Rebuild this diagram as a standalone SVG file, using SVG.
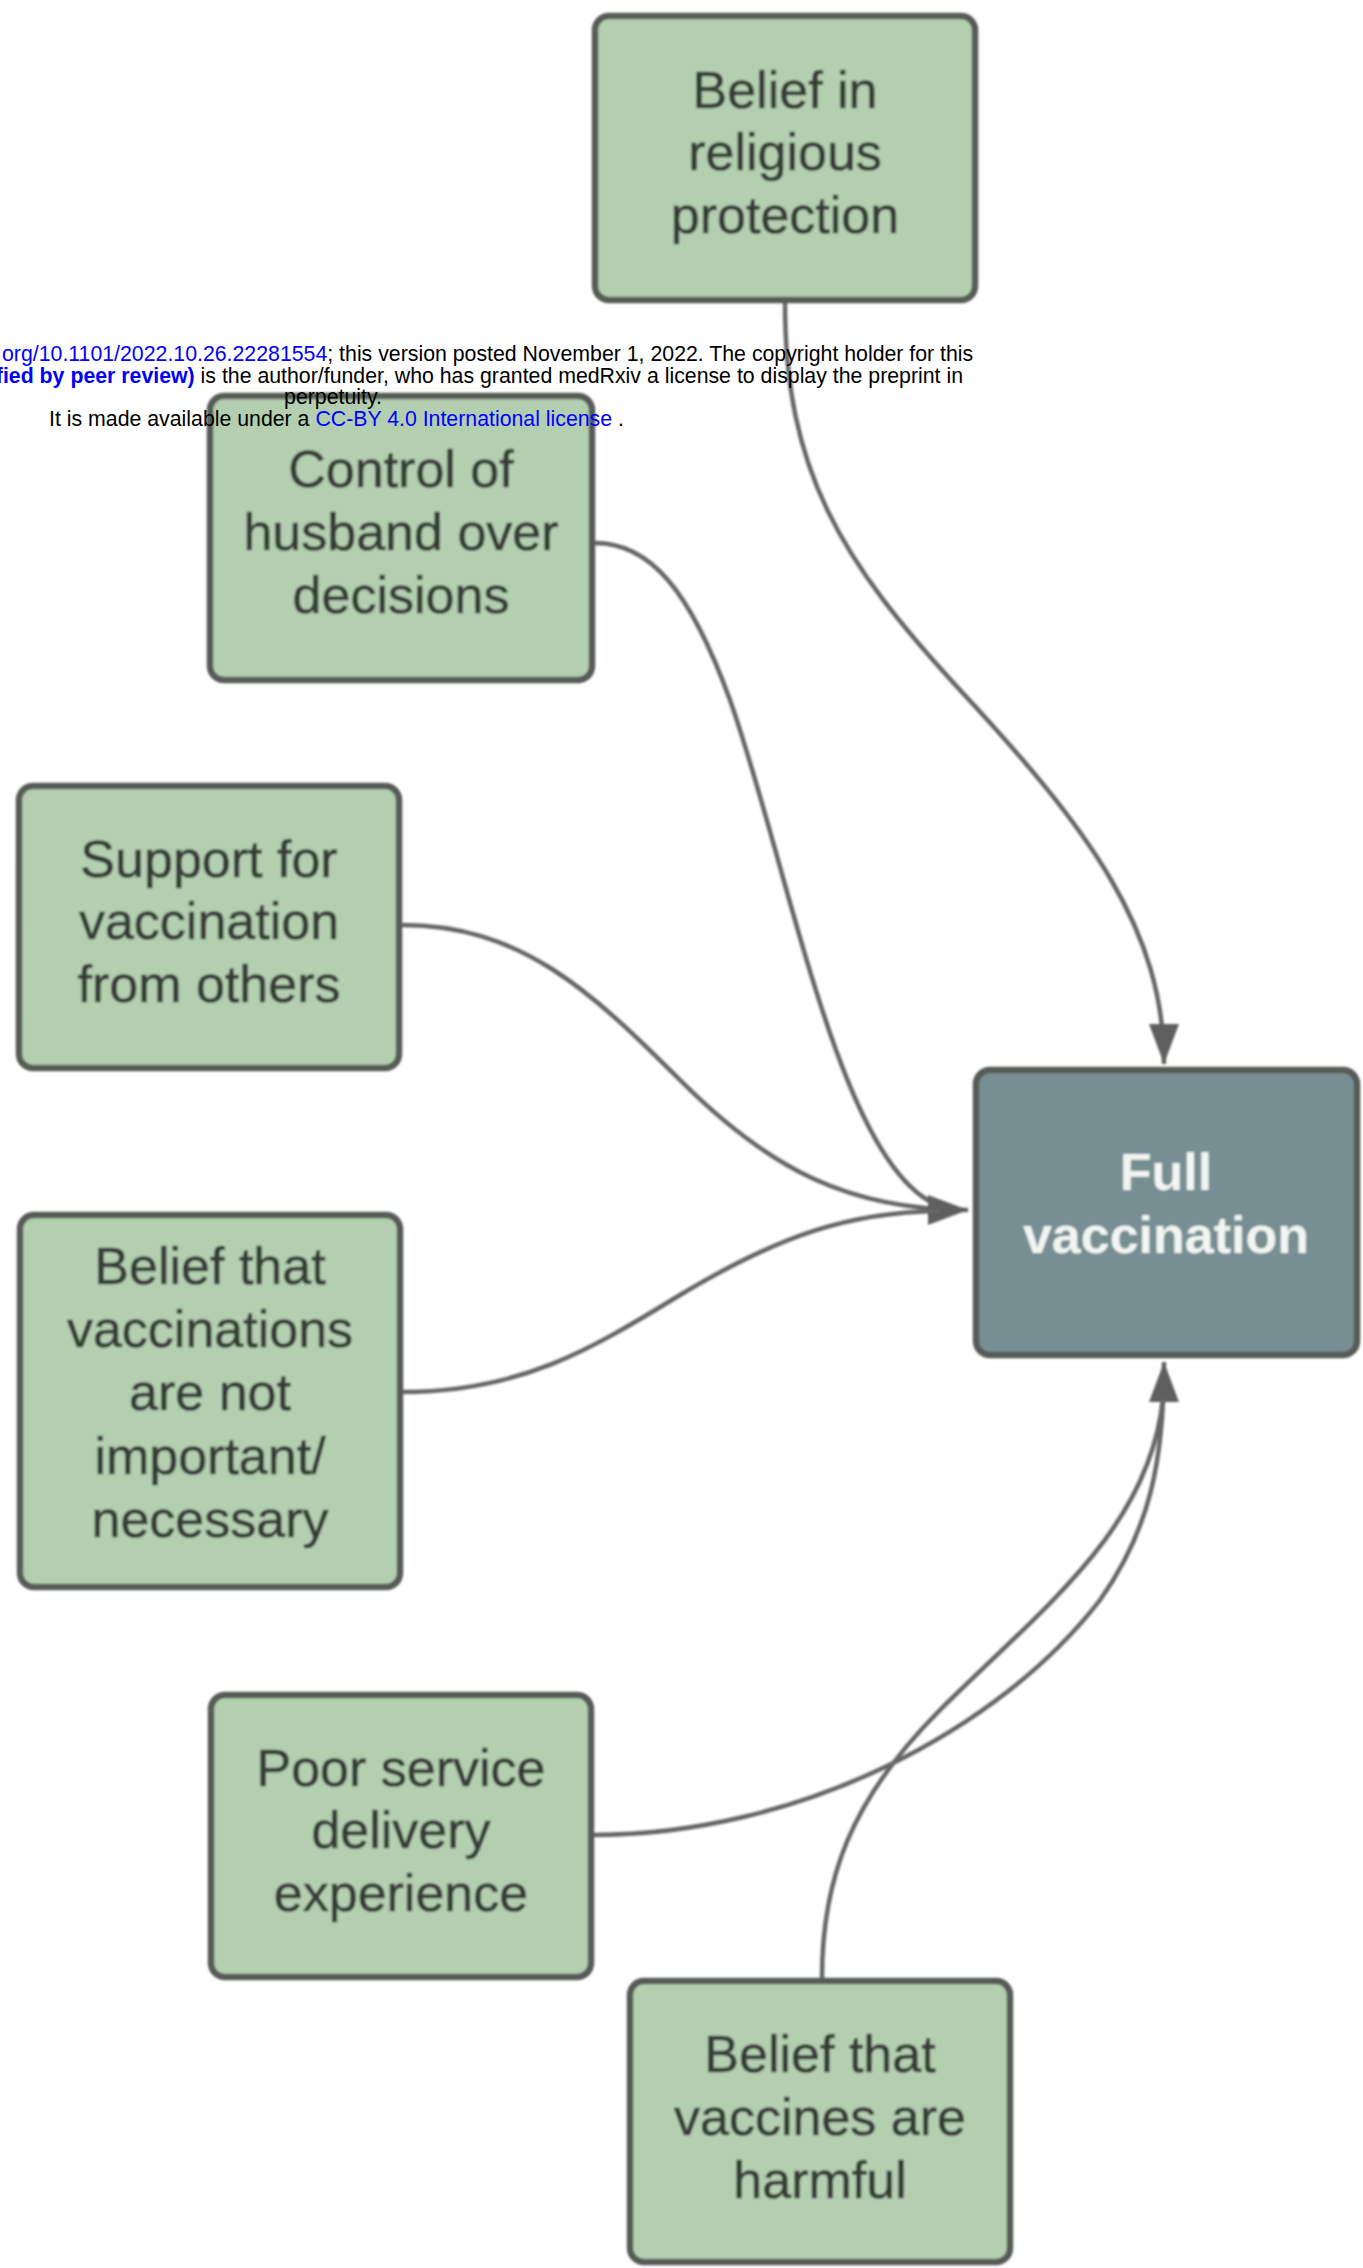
<svg xmlns="http://www.w3.org/2000/svg" width="1363" height="2268" viewBox="0 0 1363 2268">
<defs>
<style>
.box{fill:#b3cfb0;stroke:#575b57;stroke-width:6.5}
.main{fill:#778f93;stroke:#575b57;stroke-width:6.5}
.lbl{font-family:"Liberation Sans",Arial,sans-serif;font-size:52px;fill:#363d36;stroke:#363d36;stroke-width:0.7;text-anchor:middle}
.lblw{font-family:"Liberation Sans",Arial,sans-serif;font-size:52px;font-weight:bold;fill:#f2f5f2;text-anchor:middle}
.edge{fill:none;stroke:#666666;stroke-width:4.5}
.hdr{font-family:"Liberation Sans",Arial,sans-serif;font-size:21.3px;fill:#000000}
.blue{fill:#0000ff}
</style>
<marker id="arrow" markerUnits="userSpaceOnUse" viewBox="0 0 40 30" markerWidth="40" markerHeight="30" refX="40" refY="15" orient="auto">
<path d="M0,0 L40,15 L0,30 z" fill="#5e5e5e"/>
</marker>
<filter id="soft" x="-5%" y="-5%" width="110%" height="110%">
<feGaussianBlur stdDeviation="0.9"/>
</filter>
</defs>
<rect width="1363" height="2268" fill="#ffffff"/>
<g id="diagram" filter="url(#soft)">
<g id="connectors">
<path class="edge" d="M 785 303 C 785 470, 840 560, 960 690 C 1090 830, 1164 930, 1164 1064" marker-end="url(#arrow)"/>
<path class="edge" d="M 595 543 C 650 543, 690 590, 730 700 C 790 870, 840 1170, 940 1206"/>
<path class="edge" d="M 402 925 C 520 925, 590 990, 680 1080 C 770 1170, 850 1210, 968 1210" marker-end="url(#arrow)"/>
<path class="edge" d="M 403 1392 C 520 1392, 590 1350, 680 1295 C 780 1235, 850 1212, 940 1211"/>
<path class="edge" d="M 593 1835 C 800 1835, 1000 1730, 1100 1600 C 1150 1530, 1164 1460, 1164 1362" marker-end="url(#arrow)"/>
<path class="edge" d="M 822 1978 C 822 1880, 850 1800, 940 1710 C 1040 1610, 1150 1530, 1163 1398"/>
</g>
<g id="node-religious">
<rect class="box" x="595" y="16" width="380" height="284" rx="14"/>
<text class="lbl" x="785" y="108">Belief in</text>
<text class="lbl" x="785" y="170">religious</text>
<text class="lbl" x="785" y="233">protection</text>
</g>
<g id="node-husband">
<rect class="box" x="210" y="396" width="382" height="284" rx="14"/>
<text class="lbl" x="401" y="487">Control of</text>
<text class="lbl" x="401" y="550">husband over</text>
<text class="lbl" x="401" y="613">decisions</text>
</g>
<g id="node-support">
<rect class="box" x="19" y="786" width="380" height="282" rx="14"/>
<text class="lbl" x="209" y="877">Support for</text>
<text class="lbl" x="209" y="939">vaccination</text>
<text class="lbl" x="209" y="1002">from others</text>
</g>
<g id="node-notimportant">
<rect class="box" x="20" y="1215" width="380" height="372" rx="14"/>
<text class="lbl" x="210" y="1284">Belief that</text>
<text class="lbl" x="210" y="1347">vaccinations</text>
<text class="lbl" x="210" y="1410">are not</text>
<text class="lbl" x="210" y="1474">important/</text>
<text class="lbl" x="210" y="1537">necessary</text>
</g>
<g id="node-poorservice">
<rect class="box" x="211" y="1695" width="380" height="282" rx="14"/>
<text class="lbl" x="401" y="1786">Poor service</text>
<text class="lbl" x="401" y="1848">delivery</text>
<text class="lbl" x="401" y="1911">experience</text>
</g>
<g id="node-harmful">
<rect class="box" x="630" y="1981" width="380" height="281" rx="14"/>
<text class="lbl" x="820" y="2072">Belief that</text>
<text class="lbl" x="820" y="2135">vaccines are</text>
<text class="lbl" x="820" y="2198">harmful</text>
</g>
<g id="node-full">
<rect class="main" x="976" y="1070" width="381" height="285" rx="14"/>
<text class="lblw" x="1166" y="1190">Full</text>
<text class="lblw" x="1166" y="1253">vaccination</text>
</g>
</g>
<g id="header">
<text class="hdr" x="2" y="361"><tspan class="blue">org/10.1101/2022.10.26.22281554</tspan>; this version posted November 1, 2022. The copyright holder for this</text>
<text class="hdr" x="963" y="383" text-anchor="end"><tspan class="blue" font-weight="bold">fied by peer review)</tspan> is the author/funder, who has granted medRxiv a license to display the preprint in</text>
<text class="hdr" x="333" y="404" text-anchor="middle">perpetuity.</text>
<text class="hdr" x="49" y="426">It is made available under a <tspan class="blue">CC-BY 4.0 International license</tspan> .</text>
</g>
</svg>
